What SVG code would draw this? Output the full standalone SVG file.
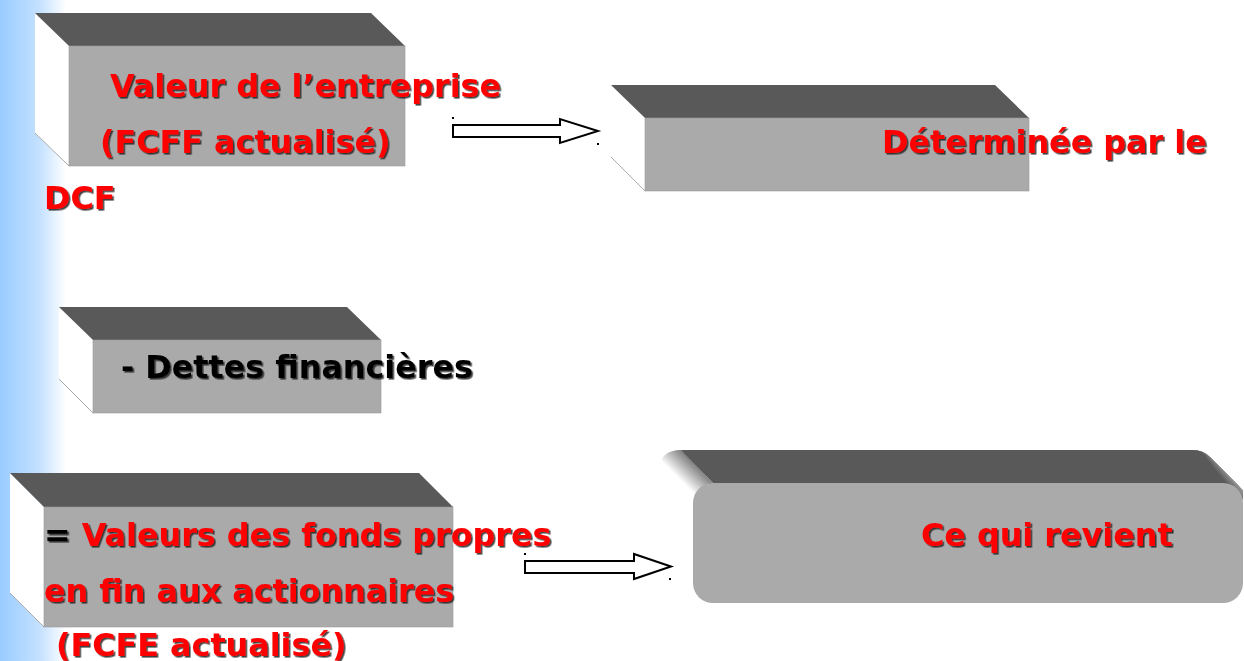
<svg xmlns="http://www.w3.org/2000/svg" width="1244" height="661" viewBox="0 0 1244 661">
<defs>
<linearGradient id="strip" x1="0" y1="0" x2="1" y2="0">
<stop offset="0" stop-color="#99ccff"/>
<stop offset="0.6" stop-color="#c4e1ff"/>
<stop offset="1" stop-color="#ffffff"/>
</linearGradient>
<linearGradient id="edgeTL" gradientUnits="userSpaceOnUse" x1="668" y1="468" x2="688" y2="448">
<stop offset="0" stop-color="#ffffff"/>
<stop offset="1" stop-color="#595959"/>
</linearGradient>
<linearGradient id="edgeBL" gradientUnits="userSpaceOnUse" x1="682" y1="590" x2="672" y2="600">
<stop offset="0" stop-color="#ffffff"/>
<stop offset="1" stop-color="#888888"/>
</linearGradient>
<linearGradient id="edgeTR" gradientUnits="userSpaceOnUse" x1="1215" y1="470" x2="1232" y2="456">
<stop offset="0" stop-color="#595959"/>
<stop offset="1" stop-color="#ffffff"/>
</linearGradient>
<filter id="shadow" x="-5%" y="-20%" width="110%" height="140%">
<feDropShadow dx="1.6" dy="1.6" stdDeviation="0.3" flood-color="#222222" flood-opacity="0.85"/>
</filter>
<style>
.front{fill:#aaaaaa;stroke:#999999;stroke-width:0.6}
.top{fill:#595959}
.side{fill:#ffffff}
.edge{fill:none;stroke:#aaaaaa;stroke-width:1}
.t{font-family:"DejaVu Sans",sans-serif;font-weight:bold;font-size:31.8px;filter:url(#shadow)}
.red{fill:#ff0000}
.blk{fill:#000000}
.arrow{fill:#ffffff;stroke:#000000;stroke-width:2;stroke-linejoin:miter}
.dot{fill:#000000}
</style>
</defs>
<rect x="0" y="0" width="1244" height="661" fill="#ffffff"/>
<rect x="0" y="0" width="66" height="661" fill="url(#strip)"/>

<g id="node-valeur-entreprise">
<polygon class="side" points="35,13 69,46 69,166 35,133"/>
<line class="edge" x1="35" y1="133" x2="69" y2="166"/>
<polygon class="top" points="35,13 371,13 405,46 69,46"/>
<rect class="front" x="69" y="46" width="336" height="120"/>
<text class="t red" x="110" y="97">Valeur de l’entreprise</text>
<text class="t red" x="100" y="153">(FCFF actualisé)</text>
<text class="t red" x="44" y="209">DCF</text>
</g>

<g id="node-determinee">
<polygon class="side" points="611,85 645,118 645,191 611,157"/>
<line class="edge" x1="611" y1="157" x2="645" y2="191"/>
<polygon class="top" points="611,85 995,85 1029,118 645,118"/>
<rect class="front" x="645" y="118" width="384" height="73"/>
<text class="t red" x="882" y="153">Déterminée par le</text>
</g>

<g id="node-dettes">
<polygon class="side" points="59,307 93,340 93,413 59,379"/>
<line class="edge" x1="59" y1="379" x2="93" y2="413"/>
<polygon class="top" points="59,307 347,307 381,340 93,340"/>
<rect class="front" x="93" y="340" width="288" height="73"/>
<text class="t blk" x="121" y="378">- Dettes financières</text>
</g>

<g id="node-fonds-propres">
<polygon class="side" points="10,473 44,507 44,627 10,593"/>
<line class="edge" x1="10" y1="593" x2="44" y2="627"/>
<polygon class="top" points="10,473 419,473 453,507 44,507"/>
<rect class="front" x="44" y="507" width="409" height="120"/>
<text class="t" x="44" y="546"><tspan class="blk">= </tspan><tspan class="red">Valeurs des fonds propres</tspan></text>
<text class="t red" x="44" y="602">en fin aux actionnaires</text>
<text class="t red" x="56" y="656">(FCFE actualisé)</text>
</g>

<g id="node-ce-qui-revient">
<path class="side" d="M659,472 Q659,450 681,450 L1193,450 Q1203,450 1210,457 L1243,490 L1243,583 Q1243,603 1223,603 L713,603 Q702,603 695,596 L666,567 Q659,560 659,550 Z"/>
<path class="top" d="M681,450 L1193,450 Q1203,450 1210,457 L1240,487 L1230,483 L713,483 L684,454 Z"/>
<path fill="url(#edgeTL)" d="M659,472 Q659,450 681,450 L713,483 L693,503 Z"/>
<path fill="url(#edgeTR)" d="M1193,450 Q1203,450 1210,457 L1243,490 L1243,500 L1223,483 L1205,455 Z"/>
<path fill="url(#edgeBL)" d="M666,567 L695,596 Q702,603 713,603 L693,583 Z"/>
<rect x="693" y="483" width="550" height="120" rx="20" ry="20" fill="#aaaaaa"/>
<text class="t red" x="921" y="546">Ce qui revient</text>
</g>

<g id="connectors">
<polygon class="arrow" points="453,125 560,125 560,119 598,131 560,143 560,137 453,137"/>
<rect class="dot" x="452" y="117" width="2" height="2"/>
<rect class="dot" x="597" y="143" width="2" height="2"/>
<polygon class="arrow" points="525,561 634,561 634,554 671,566.5 634,579 634,573 525,573"/>
<rect class="dot" x="524" y="553" width="2" height="2"/>
<rect class="dot" x="669" y="578" width="2" height="2"/>
</g>
</svg>
